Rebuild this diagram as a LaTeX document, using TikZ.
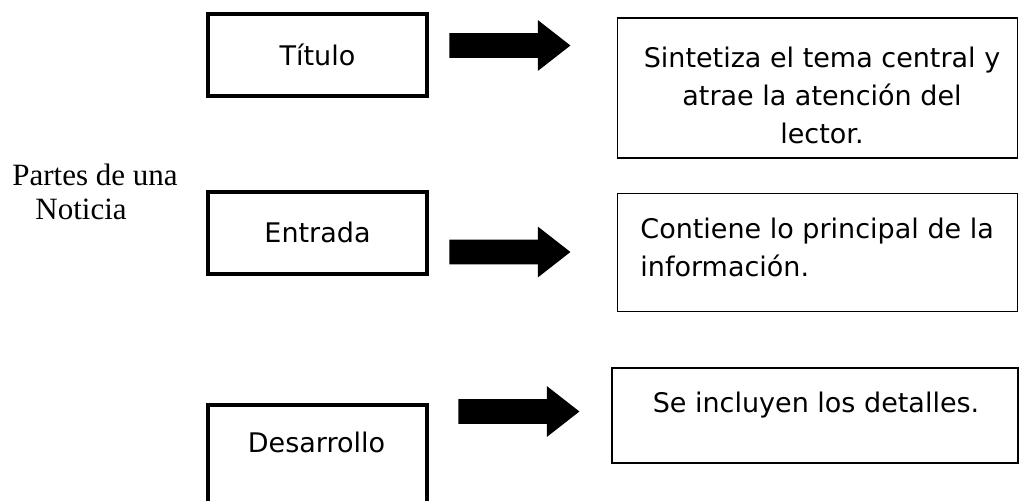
\documentclass[tikz,border=0pt]{standalone}
\usepackage{fontspec}
\setmainfont{DejaVu Sans}
\newfontfamily\timesfont{Liberation Serif}
\usetikzlibrary{shapes.arrows}

\begin{document}
\begin{tikzpicture}[
  x=0.5pt, y=-0.5pt,
  part/.style={rectangle, draw, line width=2pt, minimum width=109.5pt, minimum height=41pt, inner sep=0pt, font=\fontsize{13.5}{19}\selectfont},
  desc/.style={rectangle, draw, line width=0.8pt, inner sep=0pt},
  txt/.style={inner sep=0pt, font=\fontsize{13.5}{19}\selectfont},
  bigarr/.style={single arrow, fill=black, draw=none, inner sep=6pt, minimum height=60.5pt, single arrow head extend=6.5pt, single arrow tip angle=76, anchor=tail},
]
  \useasboundingbox (0,0) rectangle (1020,500);

  \node[inner sep=0pt, align=left, anchor=west, font=\timesfont\fontsize{15.5}{17}\selectfont] (tema) at (12,192) {Partes de una\\\hspace*{11.5pt}Noticia};

  % partes
  \node[part] (tit) at (317.5,54.5) {Título};
  \node[part] (ent) at (317.5,232.5) {Entrada};
  \node[part, minimum height=57.5pt] (des) at (317.5,462.5) {};
  \node[txt] (destxt) at (316.5,442) {Desarrollo};

  % flechas
  \node[bigarr] (a1) at (449,45.5) {};
  \node[bigarr] (a2) at (449,252) {};
  \node[bigarr] (a3) at (458,411.5) {};

  % descripciones
  \node[desc, minimum width=200pt, minimum height=70pt] (r1) at (817.5,88) {};
  \node[txt, align=center] (r1txt) at (822,95.5) {Sintetiza el tema central y\\atrae la atención del\\lector.};
  \node[desc, minimum width=200pt, minimum height=59pt] (r2) at (817.5,252.5) {};
  \node[txt, align=left, anchor=west] (r2txt) at (640,247.5) {Contiene lo principal de la\\información.};
  \node[desc, minimum width=203pt, minimum height=47.5pt] (r3) at (815,415.5) {};
  \node[txt] (r3txt) at (816,405) {Se incluyen los detalles.};
\end{tikzpicture}
\end{document}
